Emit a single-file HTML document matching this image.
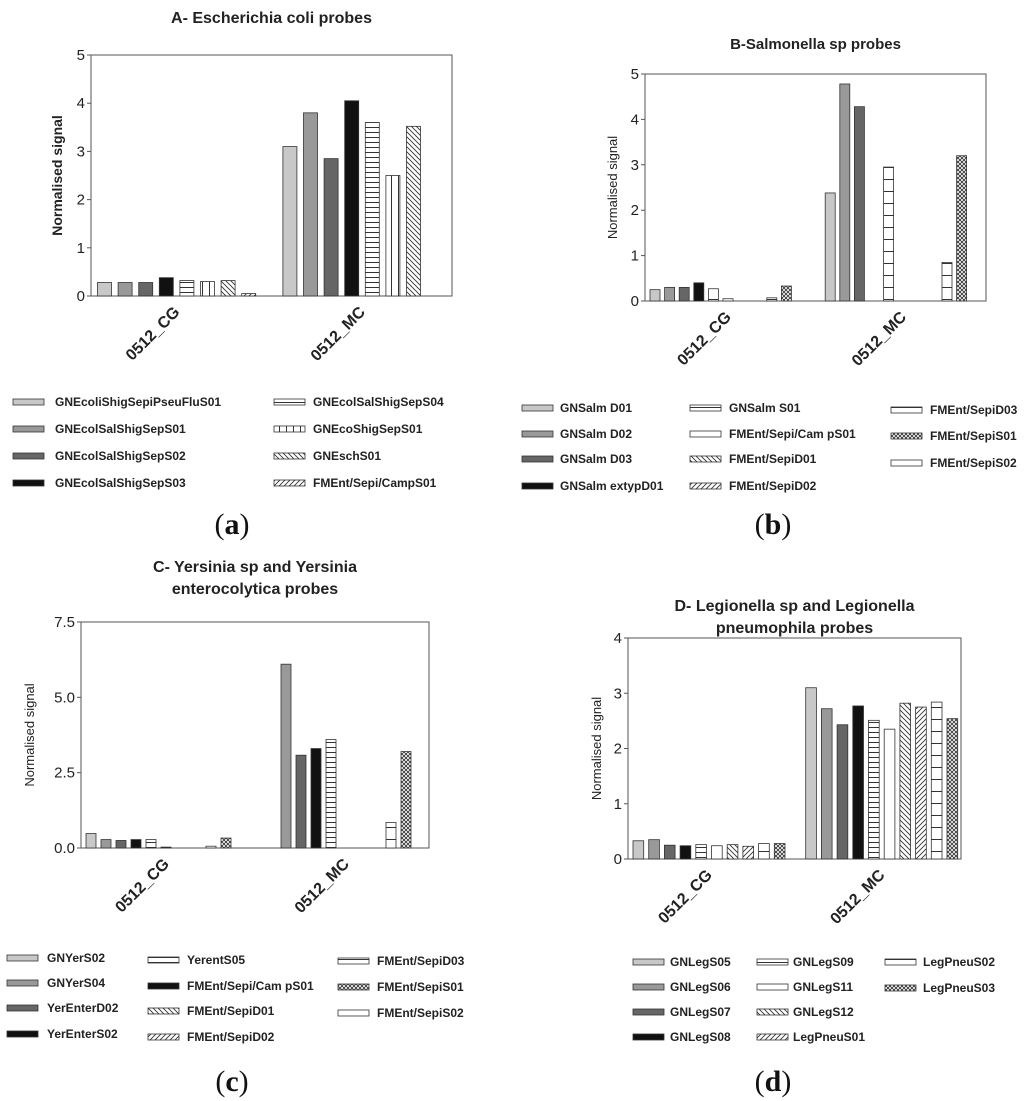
<!DOCTYPE html>
<html><head><meta charset="utf-8"><style>
body{margin:0;background:#fff;}
svg{display:block;font-family:"Liberation Sans",Arial,sans-serif;}
.lg{font-size:12px;font-weight:bold;fill:#222;}
.tk{font-size:15px;fill:#222;}
</style></head><body>
<svg id="fig" width="1024" height="1101" viewBox="0 0 1024 1101">
<defs>
<pattern id="p-hl" width="6" height="5" patternUnits="userSpaceOnUse"><rect width="6" height="5" fill="#fff"/><line x1="0" y1="2.5" x2="6" y2="2.5" stroke="#333" stroke-width="1"/></pattern>
<pattern id="p-hc" width="10" height="12" patternUnits="userSpaceOnUse"><rect width="10" height="12" fill="#fff"/><line x1="0" y1="11.5" x2="10" y2="11.5" stroke="#333" stroke-width="1"/></pattern>
<pattern id="p-vl" width="7" height="7" patternUnits="userSpaceOnUse"><rect width="7" height="7" fill="#fff"/><line x1="6.5" y1="0" x2="6.5" y2="7" stroke="#333" stroke-width="1"/></pattern>
<pattern id="p-bd" width="5" height="5" patternUnits="userSpaceOnUse"><rect width="5" height="5" fill="#fff"/><path d="M0,0L5,5M-1,4L1,6M4,-1L6,1" stroke="#333" stroke-width="0.9"/></pattern>
<pattern id="p-fd" width="5" height="5" patternUnits="userSpaceOnUse"><rect width="5" height="5" fill="#fff"/><path d="M0,5L5,0M-1,1L1,-1M4,6L6,4" stroke="#333" stroke-width="0.9"/></pattern>
<pattern id="p-cr" width="4" height="4" patternUnits="userSpaceOnUse"><rect width="4" height="4" fill="#fff"/><path d="M0,0L4,4M0,4L4,0" stroke="#333" stroke-width="0.9"/></pattern>
</defs>
</svg>
<script>
// ---- data ----
const categories = ["0512_CG", "0512_MC"];
const aTicks = ["0","1","2","3","4","5"];
const aSeries = ["GNEcoliShigSepiPseuFluS01","GNEcolSalShigSepS01","GNEcolSalShigSepS02","GNEcolSalShigSepS03","GNEcolSalShigSepS04","GNEcoShigSepS01","GNEschS01","FMEnt/Sepi/CampS01"];
const aCG = [0.28,0.28,0.28,0.38,0.32,0.30,0.32,0.05];
const aMC = [3.10,3.80,2.85,4.05,3.60,2.50,3.52,0];
const bTicks = ["0","1","2","3","4","5"];
const bSeries = ["GNSalm D01","GNSalm D02","GNSalm D03","GNSalm extypD01","GNSalm S01","FMEnt/Sepi/Cam pS01","FMEnt/SepiD01","FMEnt/SepiD02","FMEnt/SepiD03","FMEnt/SepiS01","FMEnt/SepiS02"];
const bCG = [0.25,0.30,0.30,0.40,0.27,0.05,0,0,0.07,0.33,0];
const bMC = [2.38,4.78,4.28,0,2.95,0,0,0,0.85,3.20,0];
const cTicks = ["0.0","2.5","5.0","7.5"];
const cSeries = ["GNYerS02","GNYerS04","YerEnterD02","YerEnterS02","YerentS05","FMEnt/Sepi/Cam pS01","FMEnt/SepiD01","FMEnt/SepiD02","FMEnt/SepiD03","FMEnt/SepiS01","FMEnt/SepiS02"];
const cCG = [0.48,0.28,0.25,0.28,0.28,0.03,0,0,0.06,0.33,0];
const cMC = [0,6.10,3.08,3.30,3.60,0,0,0,0.85,3.20,0];
const dTicks = ["0","1","2","3","4"];
const dSeries = ["GNLegS05","GNLegS06","GNLegS07","GNLegS08","GNLegS09","GNLegS11","GNLegS12","LegPneuS01","LegPneuS02","LegPneuS03"];
const dCG = [0.33,0.35,0.25,0.24,0.26,0.24,0.26,0.23,0.28,0.28];
const dMC = [3.10,2.72,2.43,2.77,2.51,2.35,2.82,2.75,2.84,2.54];

const NS="http://www.w3.org/2000/svg";
const svg=document.getElementById('fig');
function mk(tag,attrs,parent,txt){const e=document.createElementNS(NS,tag);for(const k in attrs)e.setAttribute(k,attrs[k]);if(txt!==undefined)e.textContent=txt;(parent||svg).appendChild(e);return e;}
const FILLS={light:"#c8c8c8",mid:"#999",dark:"#666",black:"#111",white:"#fff",hl:"url(#p-hl)",hc:"url(#p-hc)",vl:"url(#p-vl)",bd:"url(#p-bd)",fd:"url(#p-fd)",cr:"url(#p-cr)"};

function panel(o){
  const g=mk('g',{});
  
  
  const ppu=(o.y0-o.yTop)/o.yMax;
  const ys=v=>o.y0-v*ppu;
  o.title.forEach((t,i)=>{const e=mk('text',{x:(o.left+o.right)/2,y:o.titleY+i*22,'text-anchor':'middle','font-size':o.titleSize,'font-weight':'bold',fill:'#222'},g,t);
    
    });
  const fr=mk('rect',{x:o.left,y:o.yTop,width:o.right-o.left,height:o.y0-o.yTop,fill:'none',stroke:'#555','stroke-width':1},g);
  
  
  o.ticks.forEach(t=>{const v=parseFloat(t);const y=ys(v);
    mk('line',{x1:o.left-4,x2:o.left,y1:y,y2:y,stroke:'#555'},g);
    const e=mk('text',{x:o.left-6,y:y+5,'text-anchor':'end',class:'tk','font-size':o.tickSize},g,t);
    
    });
  const yt=mk('text',{transform:`translate(${o.ytX},${(o.yTop+o.y0)/2}) rotate(-90)`,'text-anchor':'middle','font-size':o.ytSize,'font-weight':o.ytBold?'bold':'normal',fill:'#222'},g,'Normalised signal');
  
  
  const slots=o.series.length+1;
  [o.cg,o.mc].forEach((vals,gi)=>{
    vals.forEach((v,k)=>{ if(v<=0) return;
      const x=o.left+o.off+(gi*slots+k)*o.step;
      const r=mk('rect',{x:x,y:ys(v),width:o.bw,height:v*ppu,fill:FILLS[o.pat[k]],stroke:'#333','stroke-width':0.8},g);
      
      
    });
    const cx=o.left+o.off+(gi*slots+(o.series.length-1)/2)*o.step+o.bw/2+4;
    const cl=mk('text',{transform:`translate(${cx},${o.y0+17}) rotate(-45)`,'text-anchor':'end','font-size':16,'font-weight':'bold',fill:'#222'},g,categories[gi]);
    
    
  });
  o.series.forEach((s,k)=>{const c=o.leg[k];
    const le=mk('g',{},g);
    
    
    mk('rect',{x:c[0],y:c[2]-7,width:31,height:6,fill:FILLS[o.pat[k]],stroke:'#333','stroke-width':0.8},le);
    mk('text',{x:c[1],y:c[2],class:'lg'},le,s);
  });
  const sc=mk('text',{x:o.capX,y:o.capY,'text-anchor':'middle','font-family':'Liberation Serif, serif','font-size':30,fill:'#111'},g);
  
  
  mk('tspan',{},sc,'(');mk('tspan',{'font-weight':'bold'},sc,o.cap);mk('tspan',{},sc,')');
}
function col(x1,x2,ys){return ys.map(y=>[x1,x2,y]);}

panel({id:'a',title:['A- Escherichia coli probes'],titleY:23,titleSize:16,left:91,right:452,yTop:55,y0:296,yMax:5,ticks:aTicks,tickSize:16,
  ytX:62,ytSize:14,ytBold:true,series:aSeries,cg:aCG,mc:aMC,off:6.5,step:20.6,bw:14,
  pat:['light','mid','dark','black','hl','vl','bd','fd'],
  leg:col(13,55,[406,433,460,487]).concat(col(274,313,[406,433,460,487])),capX:232,capY:534,cap:'a'});
panel({id:'b',title:['B-Salmonella sp probes'],titleY:49,titleSize:15,left:645,right:986,yTop:74,y0:301,yMax:5,ticks:bTicks,tickSize:15,
  ytX:617,ytSize:13,ytBold:false,series:bSeries,cg:bCG,mc:bMC,off:5,step:14.6,bw:10,
  pat:['light','mid','dark','black','hc','white','bd','fd','hc','cr','white'],
  leg:col(522,560,[412,438,463,490]).concat(col(690,729,[412,438,463,490])).concat(col(891,930,[414,440,467])),capX:773,capY:534,cap:'b'});
panel({id:'c',title:['C- Yersinia sp and Yersinia','enterocolytica probes'],titleY:572,titleSize:16,left:81,right:429,yTop:622,y0:848,yMax:7.5,ticks:cTicks,tickSize:15,
  ytX:34,ytSize:13,ytBold:false,series:cSeries,cg:cCG,mc:cMC,off:5,step:15,bw:10,
  pat:['light','mid','dark','black','hl','black','bd','fd','hc','cr','white'],
  leg:col(7,47,[962,987,1012,1038]).concat(col(148,187,[964,990,1015,1041])).concat(col(338,377,[965,991,1017])),capX:232,capY:1091,cap:'c'});
panel({id:'d',title:['D- Legionella sp and Legionella','pneumophila probes'],titleY:611,titleSize:16,left:628,right:961,yTop:638,y0:859,yMax:4,ticks:dTicks,tickSize:15,
  ytX:601,ytSize:13,ytBold:false,series:dSeries,cg:dCG,mc:dMC,off:5,step:15.7,bw:10.7,
  pat:['light','mid','dark','black','hl','white','bd','fd','hc','cr'],
  leg:col(633,670,[966,991,1016,1041]).concat(col(757,793,[966,991,1016,1041])).concat(col(885,923,[966,992])),capX:773,capY:1091,cap:'d'});
</script>
</body></html>
